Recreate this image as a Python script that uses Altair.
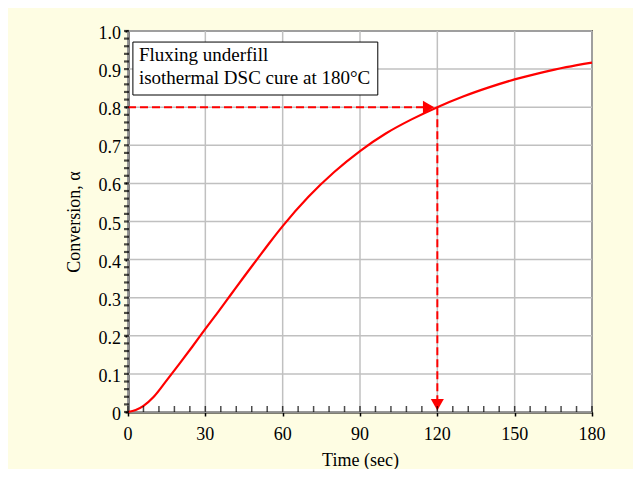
import altair as alt
import pandas as pd

time = [0, 3, 6, 10, 15, 20, 25, 30, 35, 40, 45, 50, 55, 60, 70, 80, 90, 100, 110, 120, 130, 140, 150, 160, 170, 180]
conversion = [0, 0.005, 0.016, 0.04, 0.083, 0.127, 0.172, 0.218, 0.263, 0.309, 0.355, 0.40, 0.445, 0.488,
              0.565, 0.63, 0.685, 0.731, 0.768, 0.80, 0.828, 0.852, 0.873, 0.89, 0.905, 0.917]

x_major = [0, 30, 60, 90, 120, 150, 180]
x_labels = ["0", "30", "60", "90", "120", "150", "180"]
y_major = [0, 0.1, 0.2, 0.3, 0.4, 0.5, 0.6, 0.7, 0.8, 0.9, 1.0]
y_labels = ["0", "0.1", "0.2", "0.3", "0.4", "0.5", "0.6", "0.7", "0.8", "0.9", "1.0"]
x_minor = [i * 6 for i in range(31)]
y_minor = [round(i * 0.02, 2) for i in range(51)]

target_time = 120
target_conv = 0.8
note_lines = ["Fluxing underfill", "isothermal DSC cure at 180°C"]
box = {"x1": 1.9, "x2": 96.9, "y1": 0.832, "y2": 0.971}

FONT = "Liberation Serif"
RED = "#ff0000"
GRID = "#c0c0c0"

xs = alt.Scale(domain=[0, 180], nice=False, zero=False)
ys = alt.Scale(domain=[0, 1], nice=False, zero=False)

curve_df = pd.DataFrame({"t": time, "a": conversion})

# axes: domain, major ticks and titles (labels and grid drawn as layers)
base_axes = alt.Chart(pd.DataFrame({"t": [0], "a": [0]})).mark_point(opacity=0).encode(
    x=alt.X("t:Q", scale=xs, title="Time (sec)",
            axis=alt.Axis(values=x_major, grid=False, labels=False,
                          domainColor="black", domainWidth=2, tickColor="black", tickWidth=1.5,
                          tickSize=4, titleFont=FONT, titleFontSize=18, titleFontWeight="normal",
                          titleColor="black", titlePadding=35)),
    y=alt.Y("a:Q", scale=ys, title="Conversion, α",
            axis=alt.Axis(values=y_major, grid=False, labels=False,
                          domainColor="black", domainWidth=2, tickColor="black", tickWidth=2,
                          tickSize=3, titleFont=FONT, titleFontSize=18, titleFontWeight="normal",
                          titleColor="black", titlePadding=41)),
)

xgrid = alt.Chart(pd.DataFrame({"t": x_major, "a": [0] * len(x_major), "a2": [1] * len(x_major)})).mark_rule(
    color=GRID, strokeWidth=1.5
).encode(x=alt.X("t:Q", scale=xs), y=alt.Y("a:Q", scale=ys), y2="a2:Q")

ygrid = alt.Chart(pd.DataFrame({"a": y_major, "t": [0] * len(y_major), "t2": [180] * len(y_major)})).mark_rule(
    color=GRID, strokeWidth=1.5
).encode(y=alt.Y("a:Q", scale=ys), x=alt.X("t:Q", scale=xs), x2="t2:Q")

xlab = alt.Chart(pd.DataFrame({"t": x_major, "a": [0] * len(x_major), "lab": x_labels})).mark_text(
    font=FONT, fontSize=18, color="black", align="center", baseline="alphabetic", dy=28
).encode(x=alt.X("t:Q", scale=xs), y=alt.Y("a:Q", scale=ys), text="lab:N")

ylab = alt.Chart(pd.DataFrame({"a": y_major, "t": [0] * len(y_major), "lab": y_labels})).mark_text(
    font=FONT, fontSize=18, color="black", align="right", baseline="alphabetic", dx=-7, dy=8
).encode(x=alt.X("t:Q", scale=xs), y=alt.Y("a:Q", scale=ys), text="lab:N")

xminor_ticks = alt.Chart(pd.DataFrame({"t": x_minor, "a": [0] * len(x_minor)})).mark_tick(
    orient="vertical", size=6, thickness=1.5, color="black", yOffset=-3
).encode(x=alt.X("t:Q", scale=xs), y=alt.Y("a:Q", scale=ys))

yminor_ticks = alt.Chart(pd.DataFrame({"t": [0] * len(y_minor), "a": y_minor})).mark_tick(
    orient="horizontal", size=5, thickness=2.2, color="black", xOffset=-1.5
).encode(x=alt.X("t:Q", scale=xs), y=alt.Y("a:Q", scale=ys))

curve = alt.Chart(curve_df).mark_line(color=RED, strokeWidth=2.2, interpolate="monotone").encode(
    x=alt.X("t:Q", scale=xs), y=alt.Y("a:Q", scale=ys)
)

hline = alt.Chart(pd.DataFrame({"t": [0], "t2": [target_time - 4], "a": [target_conv]})).mark_rule(
    color=RED, strokeWidth=2, strokeDash=[8, 4]
).encode(x=alt.X("t:Q", scale=xs), x2="t2:Q", y=alt.Y("a:Q", scale=ys))

vline = alt.Chart(pd.DataFrame({"t": [target_time], "a": [target_conv], "a2": [0.03]})).mark_rule(
    color=RED, strokeWidth=2, strokeDash=[8, 4]
).encode(x=alt.X("t:Q", scale=xs), y=alt.Y("a:Q", scale=ys), y2="a2:Q")

arrow_r = alt.Chart(pd.DataFrame({"t": [target_time - 3.4], "a": [target_conv]})).mark_point(
    shape="triangle-right", filled=True, color=RED, size=170, opacity=1
).encode(x=alt.X("t:Q", scale=xs), y=alt.Y("a:Q", scale=ys))

arrow_d = alt.Chart(pd.DataFrame({"t": [target_time], "a": [0.019]})).mark_point(
    shape="triangle-down", filled=True, color=RED, size=170, opacity=1
).encode(x=alt.X("t:Q", scale=xs), y=alt.Y("a:Q", scale=ys))

note_box = alt.Chart(pd.DataFrame([box])).mark_rect(
    fill="white", stroke="black", strokeWidth=1
).encode(x=alt.X("x1:Q", scale=xs), x2="x2:Q", y=alt.Y("y1:Q", scale=ys), y2="y2:Q")

note_text = alt.Chart(pd.DataFrame({"t": [box["x1"]], "a": [box["y2"]], "txt": ["\n".join(note_lines)]})).mark_text(
    align="left", baseline="top", font=FONT, fontSize=19, color="black",
    lineBreak="\n", lineHeight=23, dx=6, dy=4
).encode(x=alt.X("t:Q", scale=xs), y=alt.Y("a:Q", scale=ys), text="txt:N")

chart = alt.layer(
    xgrid, ygrid, base_axes, curve, hline, vline, arrow_r, arrow_d, note_box, note_text,
    xminor_ticks, yminor_ticks, xlab, ylab
).properties(
    width=464, height=381,
    autosize=alt.AutoSizeParams(type="none"),
    padding={"left": 120, "top": 23, "right": 41, "bottom": 57},
    background="#fefde3",
).configure_view(
    fill="white", stroke="black", strokeWidth=1.5
)

chart.save("out.html", embed_options={"renderer": "svg", "actions": False})
